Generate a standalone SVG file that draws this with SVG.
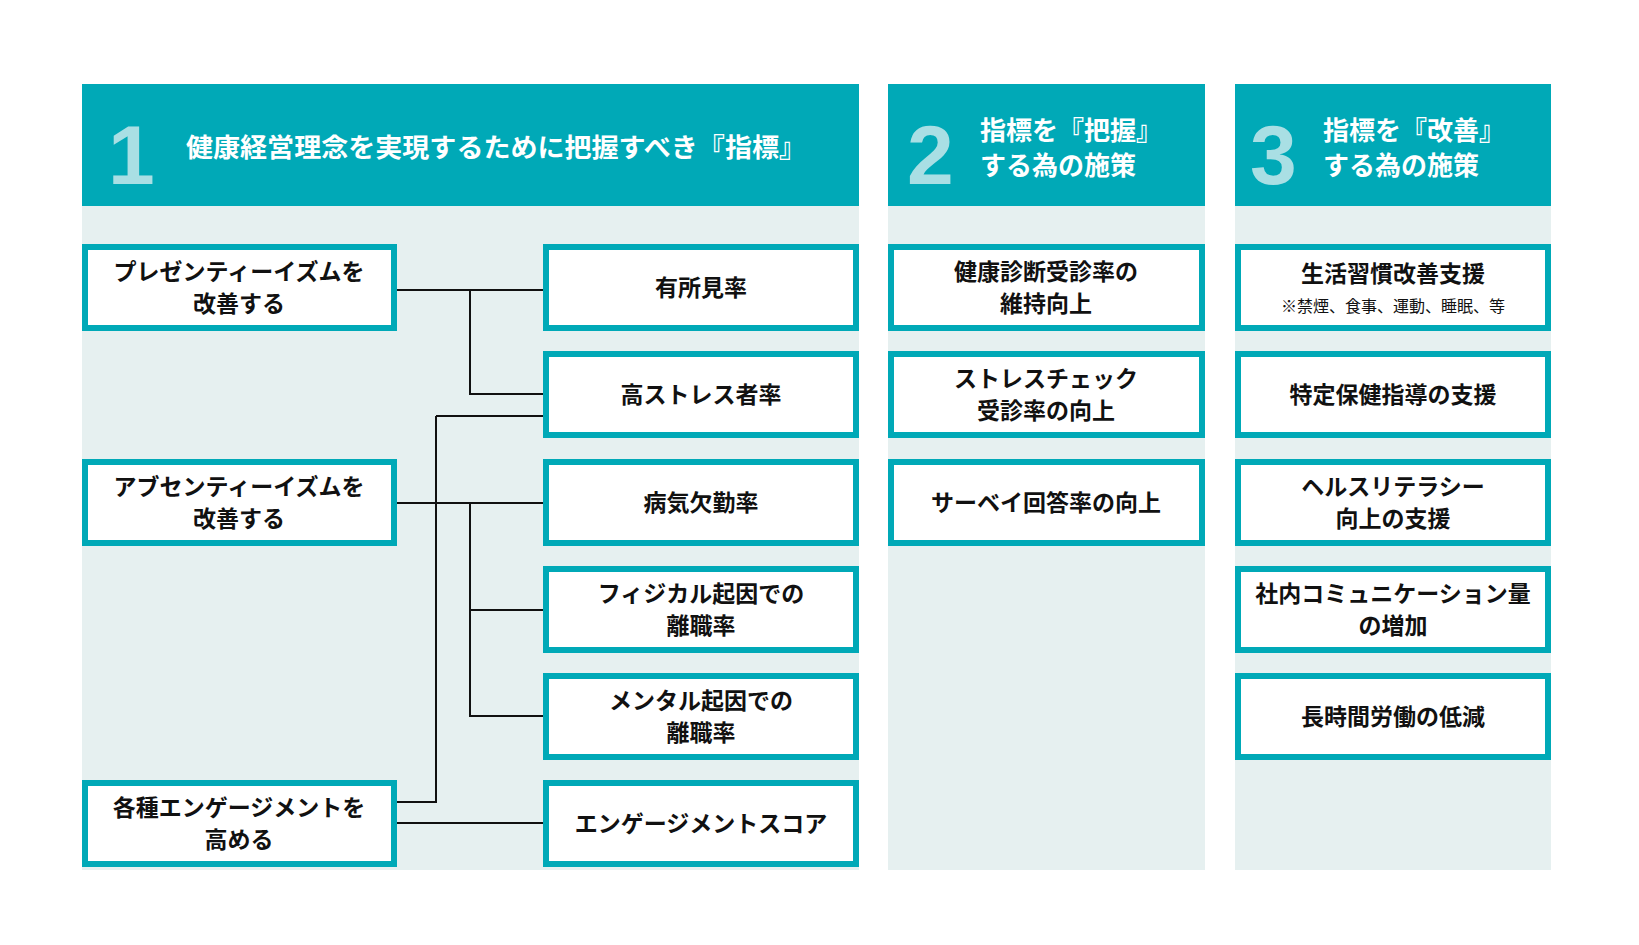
<svg xmlns="http://www.w3.org/2000/svg" width="1639" height="945" viewBox="0 0 1639 945">
<style>
.hd{fill:#00a9b7}
.pn{fill:#e6f0f0}
.bx{fill:#fff;stroke:#00a9b7;stroke-width:6}
.t{font-family:"Noto Sans CJK JP",sans-serif;font-weight:bold;font-size:23px;fill:#111;text-anchor:middle}
.s{font-family:"Noto Sans CJK JP",sans-serif;font-size:16px;fill:#111;text-anchor:middle}
.h{font-family:"Noto Sans CJK JP",sans-serif;font-weight:bold;font-size:26px;fill:#fff}
.n{font-family:"Liberation Sans",sans-serif;font-weight:bold;font-size:84px;fill:#a9dfe4}
.c{fill:none;stroke:#111;stroke-width:2}
</style>
<rect width="1639" height="945" fill="#fff"/>
<g id="panels">
<rect class="pn" x="82" y="206" width="777" height="664"/>
<rect class="pn" x="888" y="206" width="317" height="664"/>
<rect class="pn" x="1235" y="206" width="316" height="664"/>
</g>
<g id="header1"><rect class="hd" x="82" y="84" width="777" height="122"/><text class="n" x="108" y="184">1</text><text class="h" x="186" y="157" textLength="620" lengthAdjust="spacingAndGlyphs">健康経営理念を実現するために把握すべき『指標』</text></g>
<g id="header2"><rect class="hd" x="888" y="84" width="317" height="122"/><text class="n" x="907" y="184">2</text><text class="h" x="980" y="140">指標を『把握』</text><text class="h" x="980" y="175">する為の施策</text></g>
<g id="header3"><rect class="hd" x="1235" y="84" width="316" height="122"/><text class="n" x="1250" y="184">3</text><text class="h" x="1323" y="140">指標を『改善』</text><text class="h" x="1323" y="175">する為の施策</text></g>
<g id="connectors">
<path class="c" d="M397 290H543M470 290V394H543M436 416H543M436 416V802H397M397 503H543M470 503V716H543M470 610H543M397 823H543"/>
</g>
<g id="L1"><rect class="bx" x="85" y="247" width="309" height="81"/><text class="t" x="239" y="280">プレゼンティーイズムを</text><text class="t" x="239" y="312">改善する</text></g>
<g id="L2"><rect class="bx" x="85" y="462" width="309" height="81"/><text class="t" x="239" y="495">アブセンティーイズムを</text><text class="t" x="239" y="527">改善する</text></g>
<g id="L3"><rect class="bx" x="85" y="783" width="309" height="81"/><text class="t" x="239" y="816">各種エンゲージメントを</text><text class="t" x="239" y="848">高める</text></g>
<g id="R1"><rect class="bx" x="546" y="247" width="310" height="81"/><text class="t" x="701" y="296">有所見率</text></g>
<g id="R2"><rect class="bx" x="546" y="354" width="310" height="81"/><text class="t" x="701" y="403">高ストレス者率</text></g>
<g id="R3"><rect class="bx" x="546" y="462" width="310" height="81"/><text class="t" x="701" y="511">病気欠勤率</text></g>
<g id="R4"><rect class="bx" x="546" y="569" width="310" height="81"/><text class="t" x="701" y="602">フィジカル起因での</text><text class="t" x="701" y="634">離職率</text></g>
<g id="R5"><rect class="bx" x="546" y="676" width="310" height="81"/><text class="t" x="701" y="709">メンタル起因での</text><text class="t" x="701" y="741">離職率</text></g>
<g id="R6"><rect class="bx" x="546" y="783" width="310" height="81"/><text class="t" x="701" y="832">エンゲージメントスコア</text></g>
<g id="M1"><rect class="bx" x="891" y="247" width="311" height="81"/><text class="t" x="1046" y="280">健康診断受診率の</text><text class="t" x="1046" y="312">維持向上</text></g>
<g id="M2"><rect class="bx" x="891" y="354" width="311" height="81"/><text class="t" x="1046" y="387">ストレスチェック</text><text class="t" x="1046" y="419">受診率の向上</text></g>
<g id="M3"><rect class="bx" x="891" y="462" width="311" height="81"/><text class="t" x="1046" y="511">サーベイ回答率の向上</text></g>
<g id="P1"><rect class="bx" x="1238" y="247" width="310" height="81"/><text class="t" x="1393" y="282">生活習慣改善支援</text><text class="s" x="1393" y="312">※禁煙、食事、運動、睡眠、等</text></g>
<g id="P2"><rect class="bx" x="1238" y="354" width="310" height="81"/><text class="t" x="1393" y="403">特定保健指導の支援</text></g>
<g id="P3"><rect class="bx" x="1238" y="462" width="310" height="81"/><text class="t" x="1393" y="495">ヘルスリテラシー</text><text class="t" x="1393" y="527">向上の支援</text></g>
<g id="P4"><rect class="bx" x="1238" y="569" width="310" height="81"/><text class="t" x="1393" y="602">社内コミュニケーション量</text><text class="t" x="1393" y="634">の増加</text></g>
<g id="P5"><rect class="bx" x="1238" y="676" width="310" height="81"/><text class="t" x="1393" y="725">長時間労働の低減</text></g>
</svg>
